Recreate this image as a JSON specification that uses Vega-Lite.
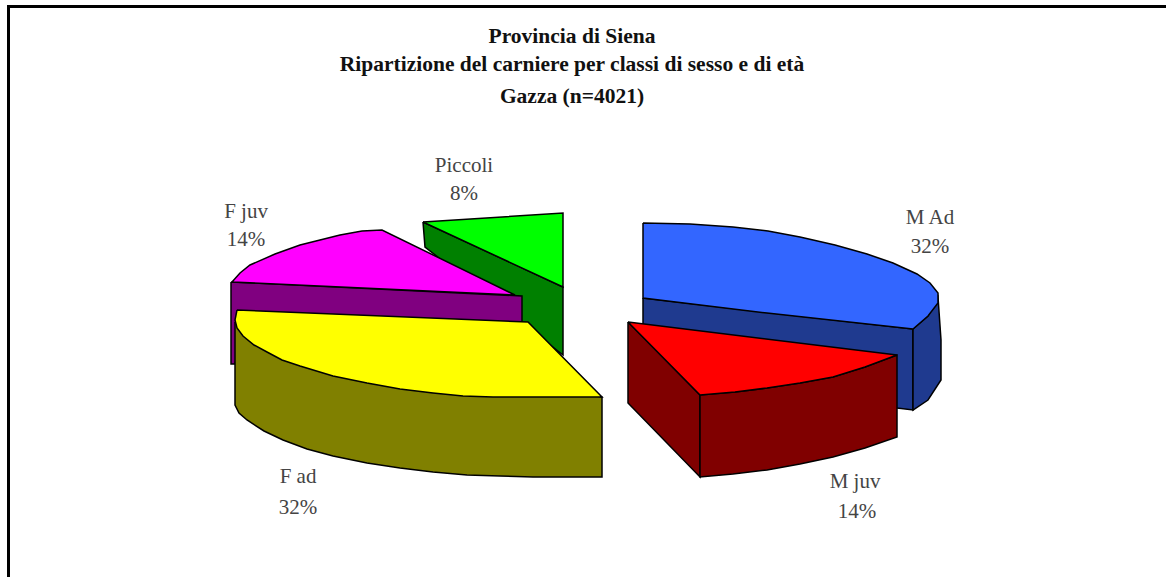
{"$schema":"https://vega.github.io/schema/vega-lite/v6.json","autosize":{"type":"fit","contains":"padding"},"width":1166,"height":577,"padding":0,"background":"white","view":{"stroke":null},
"datasets":{
"outline":[
{"part":"Piccoli side","o":1,"x":423,"y":222},{"part":"Piccoli side","o":2,"x":563,"y":287},{"part":"Piccoli side","o":3,"x":563,"y":355},{"part":"Piccoli side","o":4,"x":425,"y":247},{"part":"Piccoli side","o":5,"x":423,"y":222},
{"part":"Piccoli top","o":1,"x":423,"y":222},{"part":"Piccoli top","o":2,"x":563,"y":213},{"part":"Piccoli top","o":3,"x":563,"y":287},{"part":"Piccoli top","o":4,"x":423,"y":222},
{"part":"F juv side","o":1,"x":231,"y":282},{"part":"F juv side","o":2,"x":522,"y":296},{"part":"F juv side","o":3,"x":522,"y":322},{"part":"F juv side","o":4,"x":240,"y":340},{"part":"F juv side","o":5,"x":235,"y":364},{"part":"F juv side","o":6,"x":231,"y":364},{"part":"F juv side","o":7,"x":231,"y":282},
{"part":"F juv top","o":1,"x":232,"y":282},{"part":"F juv top","o":2,"x":240,"y":273},{"part":"F juv top","o":3,"x":250,"y":265},{"part":"F juv top","o":4,"x":275,"y":254},{"part":"F juv top","o":5,"x":300,"y":245},{"part":"F juv top","o":6,"x":320,"y":240},{"part":"F juv top","o":7,"x":340,"y":235},{"part":"F juv top","o":8,"x":362,"y":231},{"part":"F juv top","o":9,"x":382,"y":230},{"part":"F juv top","o":10,"x":515,"y":295},{"part":"F juv top","o":11,"x":232,"y":282},
{"part":"F ad side","o":1,"x":235,"y":322},{"part":"F ad side","o":2,"x":602,"y":397},{"part":"F ad side","o":3,"x":602,"y":477},{"part":"F ad side","o":4,"x":567,"y":477},{"part":"F ad side","o":5,"x":533,"y":477},{"part":"F ad side","o":6,"x":500,"y":476},{"part":"F ad side","o":7,"x":467,"y":475},{"part":"F ad side","o":8,"x":433,"y":472},{"part":"F ad side","o":9,"x":400,"y":468},{"part":"F ad side","o":10,"x":367,"y":463},{"part":"F ad side","o":11,"x":333,"y":456},{"part":"F ad side","o":12,"x":307,"y":449},{"part":"F ad side","o":13,"x":283,"y":440},{"part":"F ad side","o":14,"x":264,"y":431},{"part":"F ad side","o":15,"x":247,"y":420},{"part":"F ad side","o":16,"x":239,"y":413},{"part":"F ad side","o":17,"x":235,"y":405},{"part":"F ad side","o":18,"x":235,"y":322},
{"part":"F ad top","o":1,"x":237,"y":310},{"part":"F ad top","o":2,"x":528,"y":322},{"part":"F ad top","o":3,"x":602,"y":397},{"part":"F ad top","o":4,"x":567,"y":397},{"part":"F ad top","o":5,"x":530,"y":397},{"part":"F ad top","o":6,"x":493,"y":397},{"part":"F ad top","o":7,"x":463,"y":396},{"part":"F ad top","o":8,"x":433,"y":393},{"part":"F ad top","o":9,"x":400,"y":389},{"part":"F ad top","o":10,"x":367,"y":383},{"part":"F ad top","o":11,"x":333,"y":376},{"part":"F ad top","o":12,"x":300,"y":366},{"part":"F ad top","o":13,"x":282,"y":360},{"part":"F ad top","o":14,"x":267,"y":352},{"part":"F ad top","o":15,"x":254,"y":345},{"part":"F ad top","o":16,"x":243,"y":336},{"part":"F ad top","o":17,"x":237,"y":328},{"part":"F ad top","o":18,"x":235,"y":320},{"part":"F ad top","o":19,"x":237,"y":310},
{"part":"M Ad side","o":1,"x":643,"y":298},{"part":"M Ad side","o":2,"x":913,"y":329},{"part":"M Ad side","o":3,"x":913,"y":410},{"part":"M Ad side","o":4,"x":897,"y":408},{"part":"M Ad side","o":5,"x":643,"y":325},{"part":"M Ad side","o":6,"x":643,"y":298},
{"part":"M Ad edge","o":1,"x":913,"y":329},{"part":"M Ad edge","o":2,"x":928,"y":316},{"part":"M Ad edge","o":3,"x":938,"y":297},{"part":"M Ad edge","o":4,"x":941,"y":340},{"part":"M Ad edge","o":5,"x":941,"y":380},{"part":"M Ad edge","o":6,"x":928,"y":400},{"part":"M Ad edge","o":7,"x":913,"y":410},{"part":"M Ad edge","o":8,"x":913,"y":329},
{"part":"M Ad top","o":1,"x":643,"y":223},{"part":"M Ad top","o":2,"x":690,"y":224},{"part":"M Ad top","o":3,"x":733,"y":227},{"part":"M Ad top","o":4,"x":768,"y":231},{"part":"M Ad top","o":5,"x":800,"y":237},{"part":"M Ad top","o":6,"x":835,"y":245},{"part":"M Ad top","o":7,"x":867,"y":254},{"part":"M Ad top","o":8,"x":893,"y":263},{"part":"M Ad top","o":9,"x":917,"y":274},{"part":"M Ad top","o":10,"x":930,"y":283},{"part":"M Ad top","o":11,"x":938,"y":293},{"part":"M Ad top","o":12,"x":938,"y":303},{"part":"M Ad top","o":13,"x":928,"y":316},{"part":"M Ad top","o":14,"x":913,"y":329},{"part":"M Ad top","o":15,"x":767,"y":313},{"part":"M Ad top","o":16,"x":643,"y":298},{"part":"M Ad top","o":17,"x":643,"y":223},
{"part":"M juv side","o":1,"x":628,"y":322},{"part":"M juv side","o":2,"x":700,"y":395},{"part":"M juv side","o":3,"x":700,"y":477},{"part":"M juv side","o":4,"x":628,"y":403},{"part":"M juv side","o":5,"x":628,"y":322},
{"part":"M juv front","o":1,"x":700,"y":395},{"part":"M juv front","o":2,"x":735,"y":392},{"part":"M juv front","o":3,"x":767,"y":388},{"part":"M juv front","o":4,"x":800,"y":383},{"part":"M juv front","o":5,"x":833,"y":377},{"part":"M juv front","o":6,"x":865,"y":367},{"part":"M juv front","o":7,"x":897,"y":355},{"part":"M juv front","o":8,"x":897,"y":437},{"part":"M juv front","o":9,"x":865,"y":448},{"part":"M juv front","o":10,"x":833,"y":457},{"part":"M juv front","o":11,"x":800,"y":464},{"part":"M juv front","o":12,"x":767,"y":470},{"part":"M juv front","o":13,"x":733,"y":474},{"part":"M juv front","o":14,"x":700,"y":477},{"part":"M juv front","o":15,"x":700,"y":395},
{"part":"M juv top","o":1,"x":628,"y":322},{"part":"M juv top","o":2,"x":897,"y":355},{"part":"M juv top","o":3,"x":865,"y":367},{"part":"M juv top","o":4,"x":833,"y":377},{"part":"M juv top","o":5,"x":800,"y":383},{"part":"M juv top","o":6,"x":767,"y":388},{"part":"M juv top","o":7,"x":735,"y":392},{"part":"M juv top","o":8,"x":700,"y":395},{"part":"M juv top","o":9,"x":628,"y":322}
],
"frame":[{"o":1,"x":8.5,"y":577},{"o":2,"x":8.5,"y":6.5},{"o":3,"x":1166,"y":6.5}],
"labels":[
{"t":"Piccoli","x":464,"y":166},{"t":"8%","x":464,"y":194},
{"t":"F juv","x":246,"y":212},{"t":"14%","x":246,"y":240},
{"t":"M Ad","x":930,"y":218},{"t":"32%","x":930,"y":247},
{"t":"F ad","x":298,"y":477},{"t":"32%","x":298,"y":508},
{"t":"M juv","x":855,"y":482},{"t":"14%","x":857,"y":512}
],
"titles":[
{"t":"Provincia di Siena","x":572,"y":37},
{"t":"Ripartizione del carniere per classi di sesso e di età","x":572,"y":65},
{"t":"Gazza (n=4021)","x":572,"y":97}
]},
"layer":[
{"data":{"name":"frame"},"mark":{"type":"line","stroke":"black","strokeWidth":3,"clip":true},
"encoding":{"x":{"field":"x","type":"quantitative","scale":{"domain":[0,1166]},"axis":null},"y":{"field":"y","type":"quantitative","scale":{"domain":[577,0]},"axis":null},"order":{"field":"o"}}},
{"data":{"name":"outline"},"mark":{"type":"line","filled":true,"stroke":"black","strokeWidth":1.5,"strokeJoin":"miter","opacity":1},
"encoding":{"x":{"field":"x","type":"quantitative","scale":{"domain":[0,1166]},"axis":null},"y":{"field":"y","type":"quantitative","scale":{"domain":[577,0]},"axis":null},"order":{"field":"o"},"detail":{"field":"part"},
"fill":{"field":"part","type":"nominal","legend":null,"scale":{"domain":["Piccoli side","Piccoli top","F juv side","F juv top","F ad side","F ad top","M Ad side","M Ad edge","M Ad top","M juv side","M juv front","M juv top"],"range":["#008000","#00FF00","#800080","#FF00FF","#808000","#FFFF00","#1F3A8F","#1F3A8F","#3366FF","#800000","#800000","#FF0000"]}}}},
{"data":{"name":"labels"},"mark":{"type":"text","font":"Liberation Serif","fontSize":21,"color":"#444444"},
"encoding":{"x":{"field":"x","type":"quantitative","scale":{"domain":[0,1166]},"axis":null},"y":{"field":"y","type":"quantitative","scale":{"domain":[577,0]},"axis":null},"text":{"field":"t"}}},
{"data":{"name":"titles"},"mark":{"type":"text","font":"Liberation Serif","fontSize":21.5,"fontWeight":"bold","color":"#111111"},
"encoding":{"x":{"field":"x","type":"quantitative","scale":{"domain":[0,1166]},"axis":null},"y":{"field":"y","type":"quantitative","scale":{"domain":[577,0]},"axis":null},"text":{"field":"t"}}}
]}
